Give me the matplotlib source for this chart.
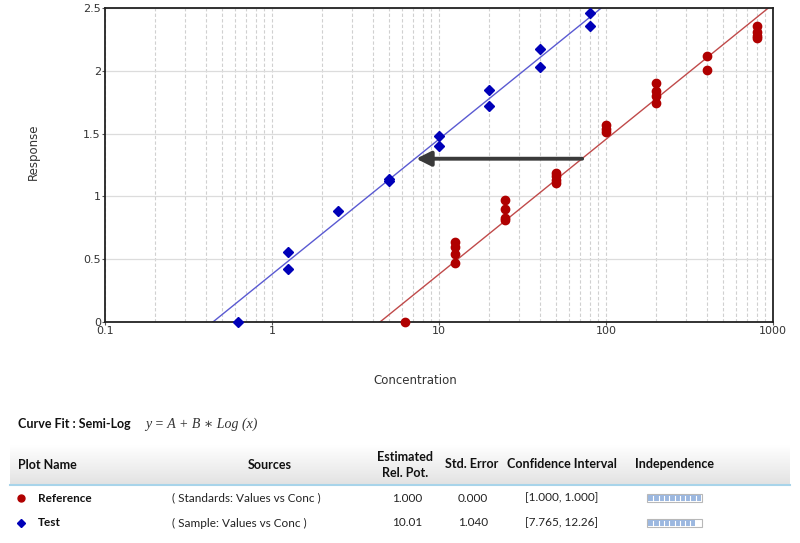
#!/usr/bin/env python3
# encoding: utf-8
import numpy as np
import matplotlib
matplotlib.use("Agg")
import matplotlib.pyplot as plt
from matplotlib.patches import Rectangle

# data
test_x = [0.625, 1.25, 1.25, 2.5, 5, 5, 10, 10, 20, 20, 40, 40, 80, 80]
test_y = [0.0, 0.56, 0.42, 0.88, 1.14, 1.12, 1.48, 1.40, 1.85, 1.72, 2.17, 2.03, 2.46, 2.36]

ref_x = [6.25, 12.5, 12.5, 12.5, 12.5, 25, 25, 25, 25, 50, 50, 50, 50,
         100, 100, 100, 200, 200, 200, 200, 400, 400, 800, 800, 800, 800]
ref_y = [0.0, 0.64, 0.60, 0.54, 0.47, 0.97, 0.90, 0.83, 0.81, 1.19, 1.16, 1.13, 1.11,
         1.57, 1.54, 1.51, 1.90, 1.84, 1.80, 1.74, 2.12, 2.01, 2.36, 2.31, 2.28, 2.26]

# semi-log fit y = A + B*log(x), parallel lines
fit_B = 1.075
fit_A_ref = -0.695
rel_pot = 10.01

arrow_from = 72
arrow_to = 7.3
arrow_y = 1.30

xticks = [0.1, 1, 10, 100, 1000]
xtick_labels = ["0.1", "1", "10", "100", "1000"]
yticks = [0, 0.5, 1, 1.5, 2, 2.5]
ytick_labels = ["0", "0.5", "1", "1.5", "2", "2.5"]

# table
plot_names = ["Reference", "Test"]
sources = ["( Standards: Values vs Conc )", "( Sample: Values vs Conc )"]
est_pot = ["1.000", "10.01"]
std_err = ["0.000", "1.040"]
conf_int = ["[1.000, 1.000]", "[7.765, 12.26]"]
independence = [1.0, 0.88]

plt.rcParams['font.family'] = ['Lato', 'DejaVu Sans']

fig = plt.figure(figsize=(8, 5.43), dpi=100)
W, H = 800, 543
ax = fig.add_axes([105 / W, 1 - 322 / H, 668 / W, 314 / H])

ax.set_xscale('log')
ax.set_xlim(0.1, 1000)
ax.set_ylim(0, 2.5)

# grid
ax.grid(True, which='both', axis='x', color='#d0d0d0', lw=0.8, ls=(0, (3, 2)))
ax.grid(True, which='major', axis='y', color='#dcdcdc', lw=0.9, ls='-')
ax.set_axisbelow(True)

# fit lines
xx = np.logspace(-1, 3, 400)
ax.plot(xx, fit_A_ref + fit_B * np.log10(xx), color='#c04a4a', lw=1)
ax.plot(xx, fit_A_ref + fit_B * np.log10(xx * rel_pot), color='#5a5ad2', lw=1)

# points
ax.plot(ref_x, ref_y, 'o', color='#b00000', ms=6.0, clip_on=False, zorder=5)
ax.plot(test_x, test_y, 'D', color='#0000b8', ms=5.3, clip_on=False, zorder=5)

# arrow
ax.annotate('', xy=(arrow_to, arrow_y), xytext=(arrow_from, arrow_y),
            arrowprops=dict(arrowstyle='-|>', color='#3a3a3a', lw=2.8,
                            mutation_scale=22, shrinkA=0, shrinkB=0))

ax.set_xticks(xticks)
ax.set_xticklabels(xtick_labels, family=['DejaVu Sans'])
ax.set_yticks(yticks)
ax.set_yticklabels(ytick_labels, family=['DejaVu Sans'])
ax.tick_params(axis='both', which='both', length=2, labelsize=8, labelcolor='#333333',
               color='#555555', pad=1)
ax.tick_params(axis='x', which='minor', length=0)
for s in ax.spines.values():
    s.set_color('#222222')
    s.set_linewidth(1.3)

fig.text(33 / W, 1 - 152 / H, 'Response', rotation=90, ha='center', va='center',
         fontsize=8.5, color='#333333', family=['DejaVu Sans'])
fig.text(415 / W, 1 - 381 / H, 'Concentration', ha='center', va='center',
         fontsize=8.5, color='#333333', family=['DejaVu Sans'])

# table area in pixel coordinates
tb = fig.add_axes([0, 0, 1, 1], zorder=-1)

# header gradient, white to light grey
top = np.array([1.0, 1.0, 1.0])
bot = np.array([0.89, 0.89, 0.89])
t = np.linspace(0, 1, 60).reshape(-1, 1, 1)
grad = top * (1 - t) + bot * t
tb.imshow(grad, extent=(10, 790, 484, 445), aspect='auto', zorder=0,
          interpolation='bilinear')
tb.plot([10, 790], [484.5, 484.5], color='#a8d4ea', lw=1.5)
tb.set_xlim(0, W)
tb.set_ylim(H, 0)
tb.axis('off')

tb.text(18, 424, 'Curve Fit : Semi-Log', fontsize=9, fontweight='bold', va='center', color='#111111')
tb.text(145, 424, 'y = A + B \u2217 Log (x)', fontsize=10, va='center', color='#333333',
        style='italic', family=['Liberation Serif', 'DejaVu Serif', 'DejaVu Sans'])

hdr = dict(fontsize=9, fontweight='bold', va='center', color='#111111')
tb.text(18, 465, 'Plot Name', ha='left', **hdr)
tb.text(270, 465, 'Sources', ha='center', **hdr)
tb.text(405, 465, 'Estimated\nRel. Pot.', ha='center', linespacing=1.35, **hdr)
tb.text(472, 464, 'Std. Error', ha='center', **hdr)
tb.text(562, 464, 'Confidence Interval', ha='center', **hdr)
tb.text(675, 464, 'Independence', ha='center', **hdr)

row_y = [498, 523]
mk = [('o', '#b00000', 5), ('D', '#0000b8', 4.2)]
for i in range(2):
    y = row_y[i]
    tb.plot(21, y, mk[i][0], color=mk[i][1], ms=mk[i][2])
    tb.text(38, y, plot_names[i], fontsize=8.5, fontweight='bold', va='center', color='#111111')
    tb.text(172, y, sources[i], fontsize=8.5, va='center', color='#222222')
    tb.text(407, y, est_pot[i], fontsize=8.5, va='center', ha='center', color='#222222')
    tb.text(473, y, std_err[i], fontsize=8.5, va='center', ha='center', color='#222222')
    tb.text(562, y, conf_int[i], fontsize=8.5, va='center', ha='center', color='#222222')
    # independence bar
    x0, bw, bh = 647, 55, 8
    tb.add_patch(Rectangle((x0, y - bh / 2), bw, bh, facecolor='white',
                           edgecolor='#b8b8b8', lw=0.8))
    tb.add_patch(Rectangle((x0 + 1, y - bh / 2 + 1), (bw - 2) * independence[i], bh - 2,
                           facecolor='#9cb8e0', edgecolor='none'))
    for k in range(1, 10):
        xs = x0 + 1 + k * (bw - 2) / 10
        if xs < x0 + 1 + (bw - 2) * independence[i]:
            tb.plot([xs, xs], [y - bh / 2 + 1.5, y + bh / 2 - 1.5], color='white', lw=0.8)

fig.savefig('out.png', dpi=100)
